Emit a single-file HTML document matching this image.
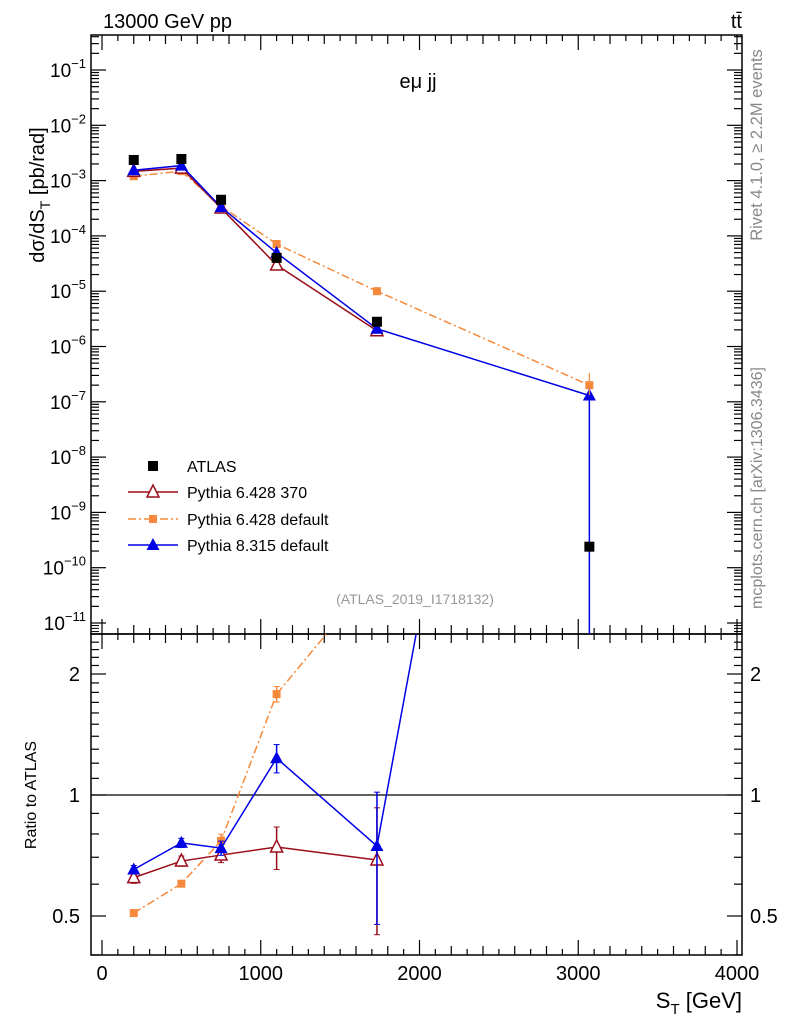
<!DOCTYPE html>
<html><head><meta charset="utf-8"><style>
body{margin:0;background:#fff;}
svg text{font-family:"Liberation Sans",sans-serif;}
</style></head><body>
<svg id="c" width="786" height="1024" xmlns="http://www.w3.org/2000/svg">
<defs>
<clipPath id="cm"><rect x="91" y="35" width="651" height="599"/></clipPath>
<clipPath id="cr"><rect x="91" y="634" width="651" height="321"/></clipPath>
</defs>
<g id="g"></g>
</svg>
<script>
const xs=[200,500,750,1100,1732,3070];
const atlas=[2.36e-3,2.46e-3,4.5e-4,4.0e-5,2.8e-6,2.4e-10];
const red=[1.47e-3,1.685e-3,3.19e-4,2.97e-5,1.93e-6,null];
const orange=[1.2e-3,1.48e-3,3.46e-4,7.13e-5,1.0e-5,2.0e-7];
const blue=[1.54e-3,1.87e-3,3.32e-4,4.94e-5,2.09e-6,1.3e-7];
const redRatioErr=[0.02,0.02,0.03,0.09,0.24,0];
const blueRatioErr=[0.015,0.02,0.03,0.1,0.27,0];
const orangeRatioErr=[0.01,0.01,0.03,0.08,0,0];
const xTicks=[0,1000,2000,3000,4000];
const yDecades=[-11,-10,-9,-8,-7,-6,-5,-4,-3,-2,-1];
const rTicks=[0.5,1,2];

const NS="http://www.w3.org/2000/svg";
const G=document.getElementById('g');
const X0=91,X1=742,YT=35,YM=634,YB=955;
const X=v=>102+v*0.15875;
const Y=v=>70+55.3*(-1-Math.log10(v));
const R=v=>795-121*Math.log2(v);
function el(t,a,p){const e=document.createElementNS(NS,t);for(const k in a)e.setAttribute(k,a[k]);(p||G).appendChild(e);return e;}
function txt(x,y,s,a,p){const e=el('text',Object.assign({x:x,y:y},a),p);e.textContent=s;return e;}

let f=el('rect',{x:X0,y:YT,width:X1-X0,height:YM-YT,fill:'none',stroke:'#000','stroke-width':1.5});

f=el('rect',{x:X0,y:YM,width:X1-X0,height:YB-YM,fill:'none',stroke:'#000','stroke-width':1.5});


for(let v=0;v<=4000;v+=100){
  const x=X(v);const L=v%1000===0?15:(v%200===0?9:6);
  for(const yb of [YM,YB]){el('line',{x1:x,x2:x,y1:yb,y2:yb-L,stroke:'#000','stroke-width':1.2});el('line',{x1:x,x2:x,y1:(yb===YM?YT:YM),y2:(yb===YM?YT:YM)+L,stroke:'#000','stroke-width':1.2});}
}
xTicks.forEach(v=>{const t=txt(X(v),980,String(v),{'font-size':20,'text-anchor':'middle'});});
let t=txt(742,1008,'S',{'font-size':22,'text-anchor':'end'});
t.innerHTML='S<tspan font-size="15" dy="6">T</tspan><tspan dy="-6"> [GeV]</tspan>';


yDecades.forEach(d=>{
  for(let m=1;m<10;m++){const v=m*Math.pow(10,d);const y=Y(v);if(y<YT||y>YM)continue;const L=m===1?15:8;
    el('line',{x1:X0,x2:X0+L,y1:y,y2:y,stroke:'#000','stroke-width':1.2});el('line',{x1:X1,x2:X1-L,y1:y,y2:y,stroke:'#000','stroke-width':1.2});}
  const tl=el('text',{x:86,y:Y(Math.pow(10,d))+7,'font-size':19,'text-anchor':'end'});
  tl.innerHTML='10<tspan font-size="13" dy="-9">'+d.toString().replace('-','−')+'</tspan>';
  
});
for(let m=5;m<10;m++){const y=Y(m*1e-12);if(y<YM){el('line',{x1:X0,x2:X0+8,y1:y,y2:y,stroke:'#000'});el('line',{x1:X1,x2:X1-8,y1:y,y2:y,stroke:'#000'});}}
t=el('text',{transform:'translate(44,195) rotate(-90)','font-size':20,'text-anchor':'middle'});
t.innerHTML='dσ/dS<tspan font-size="14" dy="6">T</tspan><tspan dy="-6"> [pb/rad]</tspan>';


for(let v=0.4;v<=2.5;v+=0.1){const y=R(v);if(y<YM||y>YB)continue;const maj=rTicks.some(r=>Math.abs(r-v)<1e-6);const L=maj?15:8;
  el('line',{x1:X0,x2:X0+L,y1:y,y2:y,stroke:'#000','stroke-width':1.2});el('line',{x1:X1,x2:X1-L,y1:y,y2:y,stroke:'#000','stroke-width':1.2});}
rTicks.forEach(v=>{
  let a=txt(80,R(v)+7,String(v),{'font-size':20,'text-anchor':'end'});
  let b=txt(750,R(v)+7,String(v),{'font-size':20});
});
el('line',{x1:X0,x2:X1,y1:R(1),y2:R(1),stroke:'#000','stroke-width':1.2});
t=txt(0,0,'Ratio to ATLAS',{transform:'translate(36,795) rotate(-90)','font-size':16,'text-anchor':'middle'});


t=txt(103,28,'13000 GeV pp',{'font-size':20});
t=txt(742,28,'tt̄',{'font-size':20,'text-anchor':'end'});
t=txt(418,88,'eμ jj',{'font-size':20,'text-anchor':'middle'});
t=txt(415,604,'(ATLAS_2019_I1718132)',{'font-size':14,'text-anchor':'middle',fill:'#999'});
t=txt(0,0,'Rivet 4.1.0, ≥ 2.2M events',{transform:'translate(762,145) rotate(-90)','font-size':16.5,'text-anchor':'middle',fill:'#888'});
t=txt(0,0,'mcplots.cern.ch [arXiv:1306.3436]',{transform:'translate(762,488) rotate(-90)','font-size':16,'text-anchor':'middle',fill:'#888'});

const gm=el('g',{'clip-path':'url(#cm)'});const gr=el('g',{'clip-path':'url(#cr)'});
function marker(p,kind,col,x,y){
  if(kind==='sq')return el('rect',{x:x-5,y:y-5,width:10,height:10,fill:col},p);
  if(kind==='ssq')return el('rect',{x:x-4,y:y-4,width:8,height:8,fill:col},p);
  if(kind==='tri')return el('polygon',{points:`${x},${y-7} ${x-6.5},${y+5} ${x+6.5},${y+5}`,fill:col},p);
  return el('polygon',{points:`${x},${y-7} ${x-6},${y+5} ${x+6},${y+5}`,fill:'#fff',stroke:col,'stroke-width':1.5},p);
}
function series(vals,col,kind,dash,name,errs){
  const pm=[],pr=[];
  vals.forEach((v,i)=>{if(v){pm.push([X(xs[i]),Y(v)]);pr.push([X(xs[i]),R(v/atlas[i])]);}});
  const a={fill:'none',stroke:col,'stroke-width':1.5};if(dash)a['stroke-dasharray']=dash;
  let l=el('polyline',Object.assign({points:pm.map(p=>p.join(',')).join(' ')},a),gm);
  
  l=el('polyline',Object.assign({points:pr.map(p=>p.join(',')).join(' ')},a),gr);
  
  vals.forEach((v,i)=>{if(!v)return;const r=v/atlas[i];const e=errs[i];
    if(e>0){const x=X(xs[i]);el('line',{x1:x,x2:x,y1:R(r+e),y2:R(Math.max(r-e,0.01)),stroke:col,'stroke-width':1.5},gr);
      el('line',{x1:x-3,x2:x+3,y1:R(r+e),y2:R(r+e),stroke:col},gr);el('line',{x1:x-3,x2:x+3,y1:R(r-e),y2:R(r-e),stroke:col},gr);}
    let m=marker(gm,kind,col,X(xs[i]),Y(v));
    m=marker(gr,kind,col,X(xs[i]),R(r));
  });
}
series(orange,'#f6893b','ssq','8,3,2,3','pythia6-default',orangeRatioErr);
series(red,'#9b0d1b','otri',null,'pythia6-370',redRatioErr);
series(blue,'#0000e6','tri',null,'pythia8-default',blueRatioErr);
el('line',{x1:X(xs[5]),x2:X(xs[5]),y1:Y(blue[5])-8,y2:YM,stroke:'#0000e6','stroke-width':1.5},gm);
el('line',{x1:X(xs[5]),x2:X(xs[5]),y1:Y(orange[5])-12,y2:Y(orange[5])+10,stroke:'#f6893b','stroke-width':1.2},gm);
atlas.forEach((v,i)=>{const m=marker(gm,'sq','#000',X(xs[i]),Y(v));});

const lg=el('g',{});
const entries=[['ATLAS','sq','#000',null,466],['Pythia 6.428 370','otri','#9b0d1b','',492],['Pythia 6.428 default','ssq','#f6893b','8,3,2,3',519],['Pythia 8.315 default','tri','#0000e6','',545]];
entries.forEach(e=>{
  const ge=el('g',{},lg);
  if(e[3]!==null){const a={x1:128,x2:178,y1:e[4],y2:e[4],stroke:e[2],'stroke-width':1.5};if(e[3])a['stroke-dasharray']=e[3];el('line',a,ge);}
  marker(ge,e[1],e[2],153,e[4]);
  txt(187,e[4]+6,e[0],{'font-size':16},ge);
});
</script>
</body></html>
